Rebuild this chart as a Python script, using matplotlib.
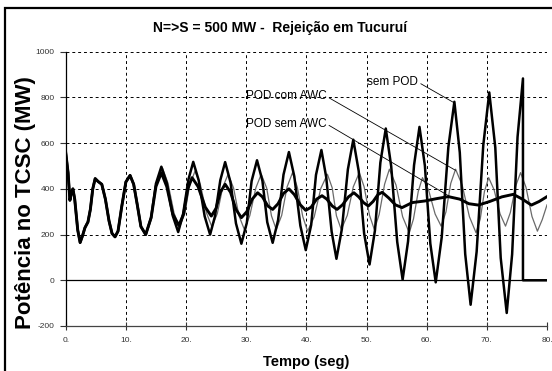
import matplotlib
matplotlib.use("Agg")
import matplotlib.pyplot as plt
from matplotlib.patches import Rectangle

# common start (all three cases coincide until ~14 s)
t_common = [0.0, 0.4, 0.7, 1.0, 1.2, 1.5, 2.0, 2.4, 2.8, 3.2, 3.7, 4.1, 4.5, 4.9,
            5.4, 6.0, 6.6, 7.2, 7.7, 8.2, 8.7, 9.3, 10.0, 10.7, 11.3, 11.9, 12.5,
            13.3, 14.2]
p_common = [560, 470, 350, 390, 400, 355, 220, 165, 195, 230, 255, 310, 400, 445,
            432, 420, 355, 260, 205, 190, 215, 320, 430, 459, 420, 330, 235,
            200, 274]

# sem POD (growing oscillation, trip at ~76 s)
t_sem_pod = [15.0, 15.9, 16.8, 17.8, 18.7, 19.5, 20.4, 21.2, 22.1, 23.1, 24.0, 24.8,
             25.7, 26.5, 27.4, 28.3, 29.2, 30.1, 30.9, 31.8, 32.7, 33.5, 34.4, 35.3,
             36.2, 37.1, 38.0, 39.0, 39.9, 40.8, 41.6, 42.5, 43.3, 44.2, 45.0, 45.9,
             46.9, 47.8, 48.7, 49.6, 50.5, 51.4, 52.3, 53.2, 54.1, 55.1, 56.0, 56.9,
             57.9, 58.8, 59.7, 60.6, 61.5, 62.5, 63.6, 64.6, 65.5, 66.4, 67.3, 68.3,
             69.4, 70.4, 71.4, 72.3, 73.3, 74.2, 75.1, 76.0, 76.0, 80.0]
p_sem_pod = [423, 497, 426, 282, 211, 288, 441, 518, 438, 280, 200, 279,
             438, 517, 428, 249, 160, 251, 434, 525, 435, 254, 164, 263,
             462, 561, 454, 239, 132, 242, 461, 570, 451, 213, 94, 224,
             485, 615, 478, 205, 69, 218, 515, 664, 499, 168, 3, 170,
             504, 671, 501, 161, -9, 189, 583, 781, 559, 115, -107, 125,
             590, 822, 581, 98, -143, 114, 627, 883, 0, 0]

# POD com AWC (thin line, sustained oscillation)
t_com_awc = [15.0, 16.1, 17.0, 18.0, 18.9, 19.8, 20.6, 21.5, 22.4, 23.4, 24.3, 25.2,
             26.1, 27.0, 27.9, 28.8, 29.7, 30.6, 31.6, 32.5, 33.4, 34.2, 35.0, 35.9,
             36.8, 37.7, 38.5, 39.4, 40.2, 41.3, 42.4, 43.5, 44.3, 45.0, 45.8, 46.8,
             47.8, 48.8, 49.6, 50.5, 51.3, 52.1, 53.0, 53.8, 54.9, 56.0, 57.1, 57.8,
             58.6, 59.3, 60.3, 61.4, 62.4, 63.2, 64.0, 64.8, 65.9, 67.1, 68.2, 68.9,
             69.6, 70.3, 71.2, 72.2, 73.1, 73.9, 74.8, 75.6, 76.5, 77.5, 78.4, 79.2,
             80.0]
p_com_awc = [418, 490, 425, 295, 230, 292, 416, 478, 417, 295, 234, 292,
             407, 464, 404, 282, 222, 283, 404, 464, 404, 282, 222, 284,
             409, 471, 407, 279, 215, 277, 402, 464, 404, 282, 222, 284,
             409, 471, 409, 284, 222, 288, 420, 486, 417, 278, 208, 268,
             389, 449, 396, 290, 237, 299, 424, 486, 416, 278, 208, 268,
             389, 449, 396, 290, 237, 296, 413, 471, 407, 279, 215, 265,
             330]

# POD sem AWC (thick, well damped)
t_sem_awc = [15.0, 15.9, 16.8, 17.8, 18.8, 19.6, 20.3, 21.0, 22.0, 23.2, 24.2, 25.0,
             25.7, 26.5, 27.4, 28.3, 29.2, 30.1, 31.0, 31.9, 32.7, 33.6, 34.4, 35.3,
             36.2, 37.1, 38.0, 39.0, 39.9, 40.8, 41.7, 42.6, 43.4, 44.3, 45.1, 46.0,
             47.0, 47.9, 48.7, 49.5, 50.3, 51.1, 51.9, 52.6, 53.7, 54.8, 55.9, 57.6,
             59.7, 61.6, 63.6, 65.5, 67.0, 68.6, 70.5, 72.5, 74.4, 75.9, 77.4, 78.7,
             80.0]
p_sem_awc = [410, 470, 410, 290, 240, 290, 400, 449, 410, 320, 281, 315,
             385, 420, 385, 310, 274, 300, 355, 383, 365, 325, 310, 335,
             380, 400, 375, 330, 306, 320, 355, 370, 355, 325, 310, 330,
             365, 383, 365, 340, 325, 345, 375, 385, 360, 330, 318, 340,
             347, 357, 366, 355, 335, 329, 345, 365, 376, 355, 329, 345,
             366]

x_ticks = [0, 10, 20, 30, 40, 50, 60, 70, 80]
x_labels = ["0.", "10.", "20.", "30.", "40.", "50.", "60.", "70.", "80."]
y_ticks = [-200, 0, 200, 400, 600, 800, 1000]

plt.rcParams["font.family"] = ["Liberation Sans", "DejaVu Sans"]

fig = plt.figure(figsize=(5.52, 3.71), dpi=100)
ax = fig.add_axes([0.119, 0.1213, 0.872, 0.7393])

ax.plot(t_common + t_com_awc, p_common + p_com_awc, color="#6a6a6a", lw=0.9)
ax.plot(t_common + t_sem_awc, p_common + p_sem_awc, color="black", lw=2.1)
ax.plot(t_common + t_sem_pod, p_common + p_sem_pod, color="black", lw=1.8)

ax.set_xlim(0, 80)
ax.set_ylim(-200, 1000)
ax.set_xticks(x_ticks)
ax.set_xticklabels(x_labels, fontsize=6)
ax.set_yticks(y_ticks)
ax.set_yticklabels([str(v) for v in y_ticks], fontsize=6)
ax.tick_params(axis="x", direction="inout", length=6, width=0.8, pad=5, colors="#333333")
ax.tick_params(axis="y", direction="out", length=4, width=0.8, pad=4, colors="#333333")

ax.grid(True, color="black", lw=0.7, ls=(0, (3, 3)))
ax.axhline(0, color="black", lw=0.9)
for s in ["top", "right"]:
    ax.spines[s].set_visible(False)
ax.spines["left"].set_linewidth(0.9)
ax.spines["bottom"].set_linewidth(0.9)
ax.spines["bottom"].set_color("#444444")

fig.text(280 / 552, 1 - 28 / 371, "N=>S = 500 MW -  Rejeição em Tucuruí", fontsize=10,
         fontweight="bold", ha="center", va="center")
ax.set_xlabel("Tempo (seg)", fontsize=10.5, fontweight="bold", labelpad=8)
fig.text(26 / 552, 1 - 203 / 371, "Potência no TCSC (MW)", fontsize=16, fontweight="bold",
         rotation=90, ha="center", va="center")

arrow = dict(arrowstyle="-", lw=0.6, color="black", shrinkA=0, shrinkB=0, relpos=(1, 0.5))
ax.annotate("sem POD", xy=(64.6, 776), xytext=(50.1, 867), fontsize=8.5,
            ha="left", va="center", arrowprops=arrow)
ax.annotate("POD com AWC", xy=(64.8, 481), xytext=(29.9, 805), fontsize=8.5,
            ha="left", va="center", arrowprops=arrow)
ax.annotate("POD sem AWC", xy=(64.0, 364), xytext=(29.9, 685), fontsize=8.5,
            ha="left", va="center", arrowprops=arrow)

fig.patches.append(Rectangle((5 / 552, -0.1), 1.2, 1.1 - 8 / 371, transform=fig.transFigure,
                             fill=False, lw=1.6, edgecolor="black"))

fig.savefig("out.png", dpi=100)
